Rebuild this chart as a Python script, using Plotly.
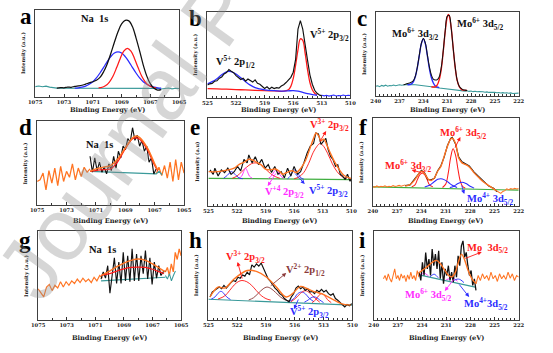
import numpy as np
import plotly.graph_objects as go

W, H = 553, 353

# ---------------- DATA (intensity as % of panel height) ----------------
# a : Na 1s
a_teal_x = [1075, 1074.75, 1074.5, 1074.25, 1074, 1073.75, 1073.5, 1066.5, 1066.25, 1066, 1065.75, 1065.5, 1065.25, 1065]
a_teal_y = [12, 12.6, 11.8, 12.4, 11.3, 11.1, 10.2, 10, 9.2, 9.8, 10.3, 9.4, 10.1, 9.8]
a_black_x = np.linspace(1073.5, 1066.25, 30)
a_black_y = [10.2, 10.8, 10.5, 11.4, 11.2, 12.3, 12.8, 13.5, 14.8, 16.2, 17.5, 19.2, 22.5, 29, 38, 50, 63, 75, 84, 88,
             87.5, 81, 68, 53, 37, 24, 15, 10, 8, 8.5]
a_blue_x = np.linspace(1072.25, 1066.25, 25)
a_blue_y = [10.3, 10.6, 11.3, 12.5, 14.6, 17.6, 22, 27.6, 34, 40.7, 46.5, 50.6, 52, 50.6, 46.5, 40.7, 34, 27.6, 22, 17.6,
            14.6, 12.5, 11.3, 10.6, 10.3]
a_red_x = np.linspace(1070.6, 1066.6, 17)
a_red_y = [10.4, 11.2, 13.2, 17.2, 23.9, 33.5, 44.1, 52.8, 56, 52.8, 44.1, 33.5, 23.9, 17.2, 13.2, 11.2, 10.4]

# b : V 2p
b_black_x = np.linspace(525, 513, 49)
b_black_y = [15, 16.5, 17, 19.5, 20, 23, 24.5, 28, 29.5, 33, 31, 29.5, 26, 24, 21.5, 23, 19.5, 22, 20, 18.5,
             21, 17, 16, 14, 11, 13, 10.5, 12.5, 11, 12, 11.5, 14, 15.5, 18, 20.5, 24, 30, 45, 80, 90,
             80, 64, 44, 27, 16, 9, 5.5, 3.5, 2.5]
b_red_x = [525, 524, 523, 522, 521, 520, 519, 518, 517, 516.5, 516.25, 516, 515.75, 515.5, 515.25, 515, 514.75, 514.5,
           514.25, 514, 513.75, 513.5]
b_red_y = [11, 10.6, 10.2, 9.8, 9.4, 9, 8.6, 8.2, 7.9, 9.6, 13.5, 22.6, 38, 56, 68.8, 67, 52, 33, 18, 9.5, 5.5, 3.5]
b_blue_x = [525, 524.5, 524, 523.5, 523, 522.75, 522.5, 522, 521.5, 521, 520.5, 520, 519.5, 519, 518, 517, 516.5, 516,
            515.5, 515, 514.5, 514, 513.5]
b_blue_y = [16.5, 19, 22.5, 27, 30.5, 31, 30.5, 28, 23.5, 19, 15, 12, 10.5, 9.5, 8.5, 8, 8.3, 8.6, 8, 6.5, 5, 4, 3.2]
b_tail_x = np.linspace(513.25, 510, 14)
b_tail_y = [2.8, 3.3, 2.5, 3.1, 2.2, 2.9, 3.4, 2.4, 3, 2.6, 3.5, 2.7, 3.2, 2.8]

# c : Mo 3d
c_teal_l_x = np.linspace(240, 236, 17)
c_teal_l_y = [11.5, 12.2, 11, 12.6, 11.8, 12.9, 11.6, 12.4, 12.1, 13, 12.3, 12.8, 13.4, 12.7, 13.3, 13.1, 13.6]
c_teal_m_x = [235, 234, 233, 232, 231, 230]
c_teal_m_y = [13.5, 12.5, 11, 9.5, 8.2, 7]
c_teal_r_x = np.linspace(229, 222, 29)
c_teal_r_y = [6.2, 5.8, 6.3, 5.5, 5.9, 5.2, 5.6, 5.0, 5.4, 4.8, 5.1, 4.5, 4.9, 4.3, 4.6, 4.1, 4.5, 3.9, 4.2, 3.6,
              4.0, 3.5, 3.9, 3.3, 3.7, 3.1, 3.5, 3.0, 3.4]
c_blue_x = [236, 235.5, 235.25, 235, 234.75, 234.5, 234.25, 234, 233.75, 233.5, 233.25, 233, 232.75, 232.5, 232]
c_blue_y = [13.2, 14.5, 17.2, 23.5, 34.5, 49, 62.5, 68, 62, 48, 33, 22, 15.5, 12, 10]
c_red_x = [233, 232.5, 232.25, 232, 231.75, 231.5, 231.25, 231, 230.85, 230.75, 230.5, 230.25, 230, 229.75, 229.5,
           229.25, 229, 228.5]
c_red_y = [11, 11, 13.3, 19.5, 32, 53, 77, 94, 97, 95.5, 81, 57, 34, 18.5, 11.3, 8.2, 7, 6.5]
c_black_x = np.linspace(236.5, 228.5, 33)
c_black_y = [13.5, 14, 14.8, 15.5, 16.5, 18.5, 24, 35, 49.5, 63, 68.5, 63, 49, 35, 25, 20, 19, 19.5, 23, 34,
             54, 78, 95, 96, 81, 57, 35, 19, 12, 9, 7.5, 7, 6.6]

# d : Na 1s
d_orange_l_x = np.linspace(1075, 1071.4, 19)
d_orange_l_y = [28, 30, 38, 18, 41, 26, 44, 23, 46, 28, 40, 33, 49, 30, 44, 34, 45, 39, 43]
d_orange_r_x = np.linspace(1066.9, 1065, 11)
d_orange_r_y = [37, 45, 35, 47, 32, 51, 28, 54, 30, 51, 38]
d_black_x = np.linspace(1071.4, 1066.9, 29)
d_black_y = [58, 39, 56, 41, 51, 39, 45, 37, 49, 41, 58, 44, 64, 56, 70, 66, 79, 75, 92, 77,
             83, 70, 77, 64, 70, 51, 56, 37, 43]
d_fit_x = [1071.4, 1071, 1070.5, 1070, 1069.5, 1069, 1068.5, 1068.25, 1068, 1067.5, 1067, 1066.8]
d_fit_y = [40, 43, 45, 47, 55, 68, 80, 82, 80, 68, 49, 42]
d_red_y = [40, 41, 42, 43, 52, 67, 79, 80, 78, 66, 47, 41]
d_teal_x = [1071.4, 1066.9, 1066.7, 1066.5]
d_teal_y = [40, 37, 40, 36]

# e : V 2p
e_black_x = [524.83, 524.49, 524.32, 523.98, 523.64, 523.30, 522.96, 522.62, 522.29, 521.95, 521.61, 521.27, 520.93,
             520.76, 520.42, 520.08, 519.74, 519.40, 519.06, 518.72, 518.38, 518.04, 517.70, 517.37, 517.03, 516.69,
             516.35, 516.01, 515.67, 515.33, 514.99, 514.65, 514.31, 513.97, 513.73, 513.46, 513.19, 512.95, 512.68,
             512.44, 512.17, 511.94, 511.66, 511.43, 511.16, 510.92, 510.65, 510.41, 510.14, 510.0]
e_black_y = [41, 36, 43, 34, 41, 38, 43, 36, 39, 45, 40, 53, 49, 58, 49, 56, 47, 53, 43, 47,
             38, 45, 36, 39, 32, 43, 34, 45, 36, 39, 49, 60, 68, 71, 83, 82, 70, 73, 77, 64,
             56, 53, 45, 47, 36, 34, 30, 36, 28, 32]
e_fit_x = [525, 524, 523, 522.3, 521.8, 521.2, 520.8, 520.3, 520, 519.5, 519, 518.5, 518, 517.5, 517.2, 516.8, 516.2,
           515.8, 515.3, 514.8, 514.3, 514, 513.7, 513.4, 513.2, 512.9, 512.6, 512.2, 511.8, 511.3, 510.8, 510]
e_fit_y = [39, 39, 41, 43, 47, 50, 53, 52, 50, 47, 42, 41, 42, 39, 36, 38, 40, 38, 43, 52, 67, 76, 83, 79, 74, 76,
           70, 60, 51, 42, 35, 31]
e_base_x = [525, 510]
e_base_y = [31.5, 30]
e_red1_x = [516, 515.5, 515, 514.5, 514, 513.6, 513.3, 513, 512.5, 512, 511.5, 511, 510.5]
e_red1_y = [31, 33, 38, 48, 61, 68, 71, 69, 60, 48, 39, 33.5, 31]
e_red2_x = [522.5, 522, 521.5, 521, 520.5, 520.1, 519.5, 519, 518.5, 518, 517.5]
e_red2_y = [31.5, 34, 39, 44, 48, 49, 47, 42, 37, 33.5, 31.5]
e_mag1_x = [521.8, 521.5, 521.3, 521.1, 520.9, 520.7, 520.4]
e_mag1_y = [31.5, 34, 39, 43, 39, 34, 31.5]
e_mag2_x = [518.7, 518.4, 518.1, 517.9, 517.7, 517.4, 517.1]
e_mag2_y = [31.5, 34, 39, 41, 39, 34, 31.5]
e_blue1_x = [523.4, 523, 522.6, 522.2, 521.8, 521.4]
e_blue1_y = [31.5, 35, 39, 36, 32, 31]
e_blue2_x = [516.7, 516.4, 516.1, 515.9, 515.6, 515.3, 515]
e_blue2_y = [31, 34, 40, 41, 37, 32, 30.5]

# f : Mo 3d
f_orange_l_x = np.linspace(240, 236, 17)
f_orange_l_y = [22, 21.5, 22.8, 21.3, 22.4, 21.9, 23, 21.6, 22.5, 22, 23.2, 22.1, 22.7, 23.4, 22.5, 23.6, 24]
f_orange_r_x = np.linspace(224.7, 222, 12)
f_orange_r_y = [17, 15.5, 14.3, 16.5, 17.5, 19.5, 18.6, 19.8, 19, 20.2, 19.4, 19.8]
f_fit_x = [236.0, 235.4, 234.8, 234.4, 234.0, 233.6, 233.2, 232.8, 232.4, 232.0, 231.6, 231.2, 230.8, 230.4, 230.2,
           229.8, 229.4, 229.0, 228.7, 228.1, 227.5, 226.9, 226.3, 225.7, 225.1, 224.7]
f_fit_y = [22.6, 24.4, 30, 35.7, 39.5, 36.8, 30.8, 29, 32, 39.5, 45, 56.4, 67.7, 76, 77, 71.4, 54.5, 49, 47.7, 44.4,
           37.6, 32, 27, 23.3, 19.5, 17]
f_black_y = [23.2, 24, 31, 36.5, 40.5, 37.5, 30, 29.8, 31.5, 40, 45.8, 55.5, 68.5, 76.8, 78, 70.5, 55.5, 50.3, 48.5,
             45.5, 38.5, 33, 27.8, 22.6, 20.3, 16.2]
f_base_x = [240, 222]
f_base_y = [21.8, 18]
f_red1_x = [235.2, 234.8, 234.5, 234.2, 233.9, 233.6, 233.3, 233.0, 232.6]
f_red1_y = [21.8, 24, 30, 35.5, 37.6, 35.5, 30, 24, 21.8]
f_red2_x = [231.4, 231.0, 230.7, 230.4, 230.1, 229.8, 229.5, 229.2, 228.9, 228.6]
f_red2_y = [21, 25, 37, 55, 65, 58, 42, 28, 22, 20.5]
f_blue1_x = [233.6, 233, 232.5, 232, 231.6, 231.2, 230.7, 230.2, 229.6]
f_blue1_y = [21.5, 23.5, 27, 30.3, 31, 30, 27, 23.5, 21]
f_blue2_x = [230.5, 230, 229.5, 229, 228.5, 228, 227.5]
f_blue2_y = [21, 22.5, 25.5, 27, 25.5, 22.5, 20.3]

# g : Na 1s
g_orange_l_x = np.linspace(1075, 1070.5, 24)
g_orange_l_y = [35, 31, 26, 37, 40, 33, 39, 36, 43, 37, 43, 39, 44, 41, 46, 42, 47, 43, 46, 42, 48, 44, 50, 47]
g_orange_r_x = np.linspace(1066.1, 1065, 9)
g_orange_r_y = [54, 59, 50, 63, 54, 76, 68, 80, 72]
g_teal_r_x = np.linspace(1066.1, 1065.4, 6)
g_teal_r_y = [50, 46, 52, 44, 50, 55]
g_black_x = np.linspace(1070.6, 1066.1, 30)
g_black_y = [46, 54, 47, 61, 30, 52, 70, 41, 65, 41, 76, 44, 72, 43, 80, 44, 74, 44, 72, 52,
             78, 46, 70, 40, 65, 47, 61, 50, 54, 55]
g_fit_x = [1070.6, 1070, 1069.5, 1069, 1068.5, 1068, 1067.5, 1067, 1066.5, 1066.1]
g_fit_y = [50, 55, 60, 64, 67, 68.5, 67, 63, 58, 54]
g_red_x = [1070.6, 1070, 1069.5, 1069, 1068.5, 1068, 1067.5, 1067, 1066.5, 1066.2]
g_red_y = [50, 52, 55, 57.5, 59, 59.5, 59, 57, 54, 52]
g_base_x = [1070.6, 1066.1]
g_base_y = [44, 48]

# h : V 2p
h_black_x = np.linspace(524.83, 510.07, 62)
h_black_y = [25.9, 31.5, 33.3, 35.2, 37, 35.2, 38.9, 35.9, 39.6, 41.9, 44.4, 43.3, 48.1, 47, 50.7, 49.3, 53.7, 50.7,
             61.9, 59.3, 63, 60.4, 64, 58.1, 53.7, 46.3, 43.3, 38.9, 35.9, 33.3, 29.6, 27.8, 24.1, 22.2, 20.4, 25.9,
             29.6, 35.9, 38.1, 35.2, 37, 33.3, 35.2, 31.5, 32.2, 29.6, 33.3, 31.5, 34.4, 31.5, 33.3, 29.6, 27.8, 29.6,
             24.1, 22.2, 19.6, 17.4, 14.8, 17.4, 15.9, 18.5]
h_fit_x = [524.83, 524.0, 523.3, 522.3, 520.96, 519.94, 518.93, 517.92, 516.9, 516.24, 515.4, 514.72, 513.88, 513.2,
           512.19, 511.18, 510.17]
h_fit_y = [25.9, 37, 35.9, 46.3, 55.6, 54.4, 48.1, 37, 25.9, 29.6, 37.8, 35.2, 31.5, 29.6, 24.1, 18.5, 16.7]
h_base_x = [525, 510]
h_base_y = [23.3, 16.7]
h_blue1_x = [524.7, 524.3, 524, 523.7, 523.4, 523.1, 522.7]
h_blue1_y = [23.5, 26, 30, 32.2, 30, 26, 23]
h_red1_x = [524, 523.3, 522.8, 522.3, 521.9, 521.5, 521, 520.5, 520, 519.5, 519, 518.5]
h_red1_y = [23.5, 27, 33, 39.5, 43, 44.4, 43, 39, 33, 27.5, 24, 22.3]
h_brown_x = [520.8, 520.3, 519.8, 519.3, 518.9, 518.5, 518, 517.5, 517, 516.6]
h_brown_y = [22.5, 25, 30, 35, 37, 35.5, 31, 26, 22.5, 21.5]
h_blue2_x = [516.6, 516.1, 515.7, 515.3, 514.9, 514.5, 514]
h_blue2_y = [20.5, 24, 29.5, 31.5, 29.5, 24.5, 20.5]
h_red2_x = [516.4, 515.9, 515.4, 514.9, 514.4, 513.9, 513.4]
h_red2_y = [20.5, 24.5, 30, 33, 30, 24.5, 20]
h_red3_x = [514.2, 513.8, 513.5, 513.2, 512.9, 512.6, 512.2]
h_red3_y = [19.5, 23, 27.5, 29.5, 27.5, 23, 19.5]
h_blue3_x = [515, 514.6, 514.3, 514.0, 513.7, 513.4, 513]
h_blue3_y = [20, 22.5, 25, 26, 25, 22.5, 19.5]

# i : Mo 3d
i_orange_l_x = np.linspace(238.8, 234.4, 23)
i_orange_l_y = [46.3, 50, 44.4, 51.9, 46.3, 42.6, 50, 57.4, 46.3, 50, 44.4, 51.9, 47, 50, 43, 50.7, 45.6, 53.7, 46.3,
                50, 44.4, 55.6, 48.1]
i_orange_r_x = np.linspace(227.3, 222, 21)
i_orange_r_y = [40.7, 50, 44.4, 51.9, 46.3, 50, 44.4, 53.7, 46.3, 50, 43.3, 51.9, 46.3, 50, 45.6, 53.7, 47, 51.9,
                44.4, 50, 48.1]
i_black_x = np.linspace(234.36, 227.31, 36)
i_black_y = [53.7, 44.4, 64.8, 50, 75.9, 57.4, 68.5, 50, 79.6, 61, 74, 57.4, 77.8, 46.3, 64.8, 40.7, 57.4, 50, 61,
             44.4, 53.7, 42.6, 61, 48.1, 72, 61, 83.3, 88.9, 70.4, 75.9, 61, 50, 55.6, 38.9, 46.3, 33.3]
i_fit_x = [234.4, 233.5, 232.7, 232.2, 231.7, 231.2, 230.7, 230.3, 229.9, 229.5, 229.1, 228.7, 228.3, 227.8, 227.3]
i_fit_y = [53, 59, 65, 67, 63, 56, 50, 48.5, 53, 65, 74, 67, 56, 46, 41]
i_base_x = [234.36, 227.4]
i_base_y = [50.7, 37]
i_mag1_x = [234.3, 234, 233.75, 233.5, 233.2]
i_mag1_y = [50.5, 51.5, 53, 51.5, 49.5]
i_mag2_x = [231, 230.6, 230.3, 230, 229.6]
i_mag2_y = [45.3, 46.5, 48, 46.5, 43.5]
i_blue1_x = [233, 232.75, 232.5, 232.25, 232]
i_blue1_y = [48.5, 50.5, 51.5, 50, 47.5]
i_blue2_x = [230.2, 229.8, 229.5, 229.2, 228.8]
i_blue2_y = [43.5, 45.5, 46, 45, 42]

# axes
na_ticks = [1075, 1073, 1071, 1069, 1067, 1065]
v_ticks = [525, 522, 519, 516, 513, 510]
mo_ticks = [240, 237, 234, 231, 228, 225, 222]

# ---------------- STYLE / LAYOUT ----------------
BLACK = '#111111'
RED = '#ff1a1a'
BLUE = '#2b2bff'
TEAL = '#3a9a9a'
ORANGE = '#ff7422'
MAG = '#ff2dff'
GREEN = '#3fae3f'
BROWN = '#8b3a3a'

SERIF = 'Liberation Serif'
TICKF = 'DejaVu Serif'

def px(x):
    return x / W

def py(y):
    return 1 - y / H

# panel boxes in pixels: (left, right, top, bottom)
boxes = {
    1: (29, 177, 10, 97), 2: (206, 353, 12, 98), 3: (379, 526, 12, 96),
    4: (31, 182, 121, 205), 5: (207, 354, 118, 206), 6: (376, 526, 118, 206),
    7: (32, 179, 231, 320), 8: (207, 355, 231, 320), 9: (377, 526, 231, 320),
}
xranges = {1: (1075, 1065), 2: (525, 510), 3: (240, 222), 4: (1075, 1065), 5: (525, 510), 6: (240, 222),
           7: (1075, 1065), 8: (525, 510), 9: (240, 222)}
xticks = {1: na_ticks, 2: v_ticks, 3: mo_ticks, 4: na_ticks, 5: v_ticks, 6: mo_ticks, 7: na_ticks, 8: v_ticks,
          9: mo_ticks}

fig = go.Figure()

def ax(n):
    return ('x', 'y') if n == 1 else (f'x{n}', f'y{n}')

def add(n, x, y, color, width=1.0, shape='linear'):
    xa, ya = ax(n)
    fig.add_trace(go.Scatter(x=list(x), y=list(y), mode='lines',
                             line=dict(color=color, width=width * 1.15, shape=shape),
                             xaxis=xa, yaxis=ya, showlegend=False, hoverinfo='skip'))

# a
add(1, a_teal_x, a_teal_y, TEAL)
add(1, a_blue_x, a_blue_y, BLUE, 1.1, 'spline')
add(1, a_red_x, a_red_y, RED, 1.1, 'spline')
add(1, a_black_x, a_black_y, BLACK, 1.1, 'spline')
# b
add(2, b_red_x, b_red_y, RED, 1.1, 'spline')
add(2, b_blue_x, b_blue_y, BLUE, 1.1, 'spline')
add(2, b_tail_x, b_tail_y, BLUE, 0.9)
add(2, b_black_x, b_black_y, BLACK, 1.0)
# c
add(3, np.concatenate([c_teal_l_x, c_teal_m_x, c_teal_r_x]), c_teal_l_y + c_teal_m_y + c_teal_r_y, TEAL, 0.9)
add(3, c_blue_x, c_blue_y, BLUE, 1.2, 'spline')
add(3, c_red_x, c_red_y, RED, 1.2, 'spline')
add(3, c_black_x, c_black_y, BLACK, 0.9, 'spline')
# d
add(4, d_orange_l_x, d_orange_l_y, ORANGE, 1.1)
add(4, d_orange_r_x, d_orange_r_y, ORANGE, 1.1)
add(4, d_teal_x, d_teal_y, TEAL, 1.0)
add(4, d_black_x, d_black_y, BLACK, 1.0)
add(4, d_fit_x, d_red_y, RED, 1.1, 'spline')
add(4, d_fit_x, d_fit_y, ORANGE, 1.3, 'spline')
# e
add(5, e_base_x, e_base_y, GREEN, 1.1)
add(5, e_red1_x, e_red1_y, RED, 0.8, 'spline')
add(5, e_red2_x, e_red2_y, RED, 0.8, 'spline')
add(5, e_mag1_x, e_mag1_y, MAG, 0.8, 'spline')
add(5, e_mag2_x, e_mag2_y, MAG, 0.8, 'spline')
add(5, e_blue1_x, e_blue1_y, BLUE, 0.8, 'spline')
add(5, e_blue2_x, e_blue2_y, BLUE, 0.8, 'spline')
add(5, e_black_x, e_black_y, BLACK, 1.0)
add(5, e_fit_x, e_fit_y, ORANGE, 1.2, 'spline')
# f
add(6, f_base_x, f_base_y, GREEN, 1.0)
add(6, f_orange_l_x, f_orange_l_y, ORANGE, 0.9)
add(6, f_orange_r_x, f_orange_r_y, ORANGE, 0.9)
add(6, f_red1_x, f_red1_y, RED, 0.9, 'spline')
add(6, f_red2_x, f_red2_y, RED, 0.9, 'spline')
add(6, f_blue1_x, f_blue1_y, BLUE, 0.9, 'spline')
add(6, f_blue2_x, f_blue2_y, BLUE, 0.9, 'spline')
add(6, f_fit_x, f_black_y, BLACK, 1.0)
add(6, f_fit_x, f_fit_y, ORANGE, 1.2, 'spline')
# g
add(7, g_orange_l_x, g_orange_l_y, ORANGE, 1.0)
add(7, g_orange_r_x, g_orange_r_y, ORANGE, 1.1)
add(7, g_teal_r_x, g_teal_r_y, TEAL, 0.9)
add(7, g_base_x, g_base_y, TEAL, 1.0)
add(7, g_black_x, g_black_y, BLACK, 1.0)
add(7, g_red_x, g_red_y, RED, 1.1, 'spline')
add(7, g_fit_x, g_fit_y, ORANGE, 1.2, 'spline')
# h
add(8, h_base_x, h_base_y, TEAL, 1.0)
add(8, h_blue1_x, h_blue1_y, BLUE, 0.8, 'spline')
add(8, h_red1_x, h_red1_y, RED, 0.8, 'spline')
add(8, h_brown_x, h_brown_y, BROWN, 0.8, 'spline')
add(8, h_blue2_x, h_blue2_y, BLUE, 0.8, 'spline')
add(8, h_red2_x, h_red2_y, RED, 0.8, 'spline')
add(8, h_red3_x, h_red3_y, RED, 0.8, 'spline')
add(8, h_blue3_x, h_blue3_y, BLUE, 0.8, 'spline')
add(8, h_black_x, h_black_y, BLACK, 1.0)
add(8, h_fit_x, h_fit_y, ORANGE, 1.2, 'spline')
# i
add(9, i_orange_l_x, i_orange_l_y, ORANGE, 0.9)
add(9, i_orange_r_x, i_orange_r_y, ORANGE, 0.9)
add(9, i_base_x, i_base_y, TEAL, 1.0)
add(9, i_mag1_x, i_mag1_y, MAG, 0.8, 'spline')
add(9, i_mag2_x, i_mag2_y, MAG, 0.8, 'spline')
add(9, i_blue1_x, i_blue1_y, BLUE, 0.8, 'spline')
add(9, i_blue2_x, i_blue2_y, BLUE, 0.8, 'spline')
add(9, i_black_x, i_black_y, BLACK, 1.1)
add(9, i_fit_x, i_fit_y, ORANGE, 1.2, 'spline')

layout = dict(width=W, height=H, margin=dict(l=0, r=0, t=0, b=0), paper_bgcolor='white', plot_bgcolor='white',
              showlegend=False)
annotations = []
for n, (l, r, t, b) in boxes.items():
    xk = 'xaxis' if n == 1 else f'xaxis{n}'
    yk = 'yaxis' if n == 1 else f'yaxis{n}'
    xa, ya = ax(n)
    layout[xk] = dict(domain=[px(l), px(r)], range=list(xranges[n]), anchor=ya, tickvals=xticks[n],
                      ticks='inside', ticklen=2.5, tickwidth=0.8, tickcolor='#333',
                      minor=dict(ticks='inside', ticklen=1.5, tickcolor='#333', dtick=0.5 if n % 3 != 1 else 1),
                      showline=True, mirror=True, linecolor='#404040', linewidth=1.1, showgrid=False,
                      zeroline=False, fixedrange=True,
                      tickfont=dict(family=TICKF, size=5.2, color='#222', weight='bold'))
    layout[yk] = dict(domain=[py(b), py(t)], range=[0, 100], anchor=xa, showticklabels=False, ticks='',
                      showline=True, mirror=True, linecolor='#404040', linewidth=1.1, showgrid=False,
                      zeroline=False, fixedrange=True)
    title_y = {0: 110, 1: 221, 2: 338}[(n - 1) // 3]
    annotations.append(dict(text='Binding Energy (eV)', x=px((l + r) / 2), y=py(title_y), xref='paper',
                            yref='paper', showarrow=False, xanchor='center', yanchor='middle',
                            font=dict(family=TICKF, size=6.6, color='#222', weight='bold')))
    ylab = 'Intensity (a.u)' if n == 5 else 'Intensity (a.u.)'
    annotations.append(dict(text=ylab, x=px(l - 12), y=py((t + b) / 2), xref='paper', yref='paper',
                            showarrow=False, textangle=-90, xanchor='center', yanchor='middle',
                            font=dict(family=TICKF, size=5, color='#222', weight='bold')))

letters = [('a', 20, 17), ('b', 194, 18), ('c', 365, 19), ('d', 19, 128), ('e', 193, 128), ('f', 366, 128),
           ('g', 19, 240), ('h', 194, 241), ('i', 365, 241)]
for s, x, y in letters:
    annotations.append(dict(text=s, x=px(x), y=py(y), xref='paper', yref='paper', showarrow=False,
                            xanchor='center', yanchor='middle',
                            font=dict(family=SERIF, size=23, color='#000', weight='bold')))

labels = [
    ('Na  1s', 90, 18, '#111'),
    ('V<sup>5+</sup> 2p<sub>3/2</sub>', 331, 35, '#111'),
    ('V<sup>5+</sup> 2p<sub>1/2</sub>', 235, 62, '#111'),
    ('Mo<sup>6+</sup> 3d<sub>5/2</sub>', 486, 24, '#111'),
    ('Mo<sup>6+</sup> 3d<sub>3/2</sub>', 419, 34, '#111'),
    ('Na  1s', 95, 144, '#111'),
    ('V<sup>3+</sup> 2p<sub>3/2</sub>', 331, 125, RED),
    ('V<sup>+4</sup> 2p<sub>3/2</sub>', 285, 192, MAG),
    ('V<sup>5+</sup> 2p<sub>3/2</sub>', 330, 191, BLUE),
    ('Mo<sup>6+</sup> 3d<sub>5/2</sub>', 469, 133, RED),
    ('Mo<sup>6+</sup> 3d<sub>3/2</sub>', 412, 166, RED),
    ('Mo<sup>4+</sup> 3d<sub>5/2</sub>', 496, 199, BLUE),
    ('Na  1s', 98, 250, '#111'),
    ('V<sup>3+</sup> 2p<sub>3/2</sub>', 245, 257, RED),
    ('V<sup>2+</sup> 2p<sub>1/2</sub>', 307, 270, BROWN),
    ('V<sup>5+</sup> 2p<sub>3/2</sub>', 311, 312, BLUE),
    ('Mo  3d<sub>5/2</sub>', 494, 248, RED),
    ('Mo<sup>6+</sup> 3d<sub>5/2</sub>', 433, 295, MAG),
    ('Mo<sup>4+</sup>3d<sub>5/2</sub>', 492, 304, BLUE),
]
for s, x, y, c in labels:
    annotations.append(dict(text=s, x=px(x), y=py(y), xref='paper', yref='paper', showarrow=False,
                            xanchor='center', yanchor='middle',
                            font=dict(family=SERIF, size=10.5, color=c, weight='bold')))

arrows = [
    (328, 131, 321, 143, RED),
    (268, 186, 277, 172, MAG),
    (306, 184, 295, 172, BLUE),
    (466, 137, 460, 149, RED),
    (416, 170, 427, 173, RED),
    (470, 194, 467, 184, BLUE),
    (237, 262, 242, 280, RED),
    (287, 273, 270, 287, BROWN),
    (295, 309, 300, 298, BLUE),
    (488, 252, 470, 259, RED),
    (450, 291, 460, 278, MAG),
    (475, 297, 464, 283, BLUE),
]
for hx, hy, tx, ty, c in arrows:
    annotations.append(dict(text='', x=px(hx), y=py(hy), xref='paper', yref='paper', showarrow=True,
                            ax=tx - hx, ay=ty - hy, axref='pixel', ayref='pixel', arrowhead=2, arrowsize=0.9,
                            arrowwidth=0.9, arrowcolor=c))

# watermark
annotations.append(dict(text='Journal Pre-proof', x=px(215), y=py(12), xref='paper', yref='paper',
                        showarrow=False, textangle=-54, xanchor='center', yanchor='middle',
                        font=dict(family='Liberation Sans', size=88, color='rgba(140,140,140,0.36)')))

layout['annotations'] = annotations
fig.update_layout(**layout)
fig.write_html('out.html')
